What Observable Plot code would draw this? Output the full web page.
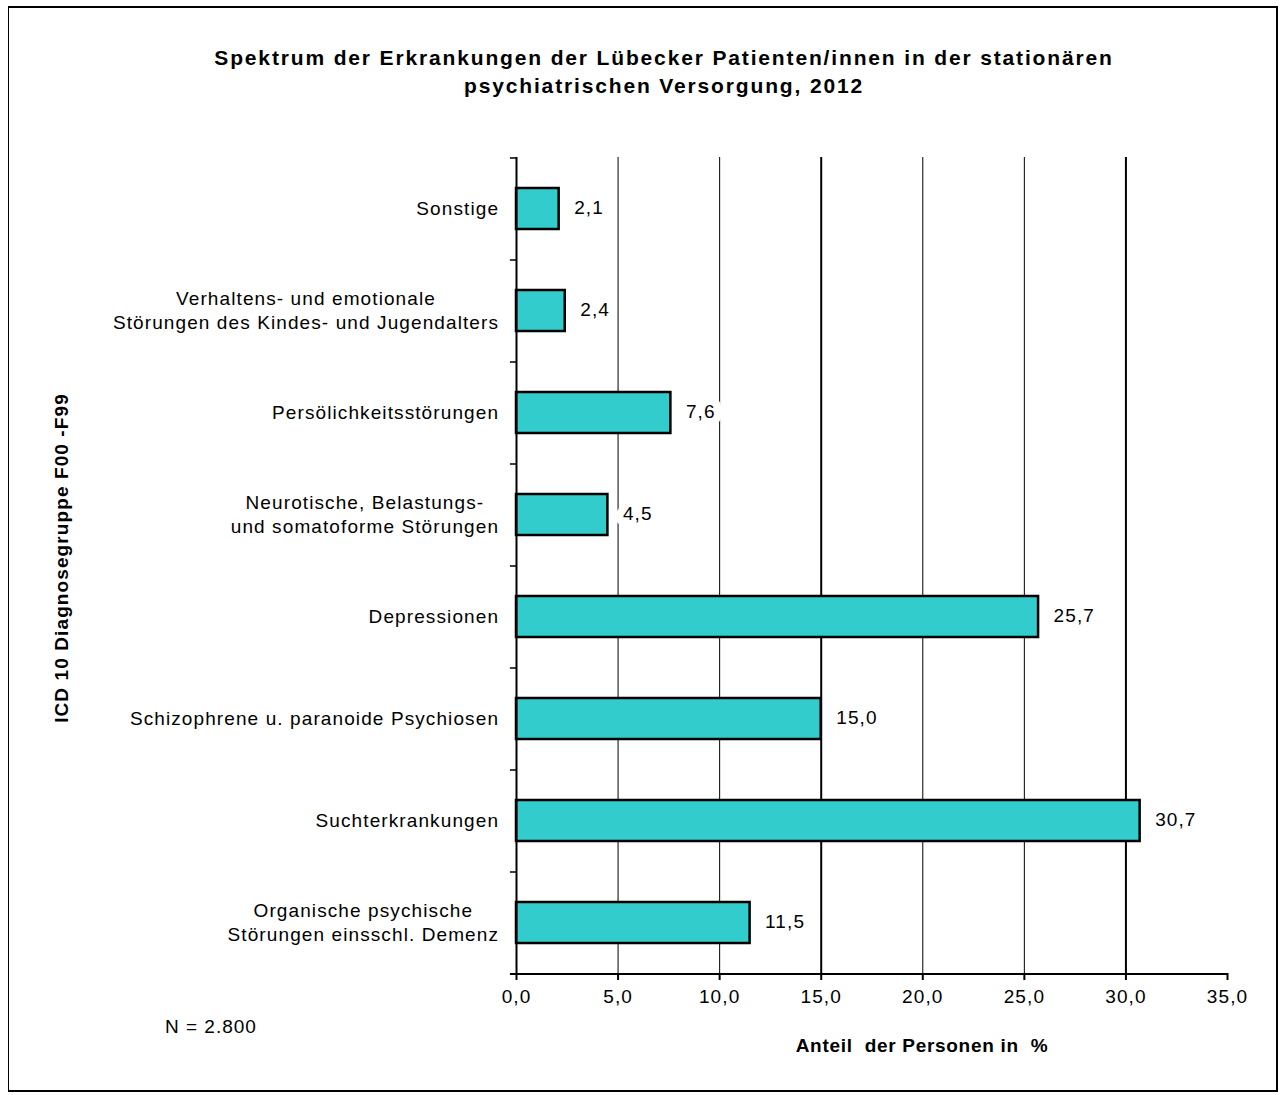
<!DOCTYPE html>
<html>
<head>
<meta charset="utf-8">
<script src="https://cdn.jsdelivr.net/npm/d3@7"></script>
<script src="https://cdn.jsdelivr.net/npm/@observablehq/plot@0.6"></script>
<style>
  html, body { margin: 0; padding: 0; background: #fff; }
  body { width: 1282px; height: 1095px; position: relative; overflow: hidden;
         font-family: "Liberation Sans", Arial, sans-serif; color: #000; }
  #frame { position: absolute; left: 8px; top: 6px; width: 1270px; height: 1086px;
           border: 2px solid #000; border-left-width: 1px; box-sizing: border-box; }
  #title { position: absolute; left: 0; width: 1328px; top: 44px; text-align: center;
           font-weight: bold; font-size: 21px; line-height: 28px; letter-spacing: 1.85px; }
  #ytitle { position: absolute; left: 62px; top: 558px; transform: translate(-50%, -50%) rotate(-90deg);
            font-weight: bold; font-size: 19px; white-space: nowrap; letter-spacing: 1.1px; }
  #xtitle { position: absolute; left: 922px; top: 1046px; transform: translate(-50%, -50%);
            font-weight: bold; font-size: 19px; white-space: pre; letter-spacing: 0.7px; }
  #note { position: absolute; left: 165px; top: 1027px; transform: translateY(-50%);
          font-size: 19px; white-space: nowrap; letter-spacing: 1px; }
  #chart { position: absolute; left: 0; top: 140px; }
</style>
</head>
<body>
<div id="frame"></div>
<div id="title">Spektrum der Erkrankungen der Lübecker Patienten/innen in der stationären<br>psychiatrischen Versorgung, 2012</div>
<div id="ytitle">ICD 10 Diagnosegruppe F00 -F99</div>
<div id="note">N = 2.800</div>
<div id="xtitle">Anteil  der Personen in  %</div>
<div id="chart"></div>
<script>
// ---- data (top to bottom as shown) ----
const categories = [
  "Sonstige",
  "Verhaltens- und emotionale\nStörungen des Kindes- und Jugendalters",
  "Persölichkeitsstörungen",
  "Neurotische, Belastungs-\nund somatoforme Störungen",
  "Depressionen",
  "Schizophrene u. paranoide Psychiosen",
  "Suchterkrankungen",
  "Organische psychische\nStörungen einsschl. Demenz"
];
const values = [2.1, 2.4, 7.6, 4.5, 25.7, 15.0, 30.7, 11.5];
const xTicks = [0, 5, 10, 15, 20, 25, 30, 35];
const gridValues = [5, 10, 15, 20, 25, 30];

const data = categories.map((c, i) => ({cat: c, value: values[i]}));
const fmt = v => v.toFixed(1).replace(".", ",");

const FONT = "'Liberation Sans', Arial, sans-serif";
const FS = 19;
const LS = 1.1;
const W = 1282, H = 883, mT = 17, mB = 50, mL = 516, mR = 55;
const step = (H - mT - mB) / categories.length;

const ctx = document.createElement("canvas").getContext("2d");
ctx.font = `${FS}px ${FONT}`;
const labelWidth = c => Math.max(...c.split("\n").map(l => ctx.measureText(l).width + LS * (l.length - 1)));

const labelMarks = categories.map(c =>
  Plot.text([c], {
    x: () => 0, y: d => d, text: d => d,
    textAnchor: "middle", lineHeight: 24 / FS,
    dx: -18 - labelWidth(c) / 2, dy: -2, fill: "#000"
  })
);

const chart = Plot.plot({
  width: W, height: H,
  marginTop: mT, marginBottom: mB, marginLeft: mL, marginRight: mR,
  style: {fontFamily: FONT, fontSize: FS + "px", color: "#000", background: "transparent", letterSpacing: LS + "px"},
  x: {domain: [0, 35], axis: null},
  y: {domain: categories, paddingInner: 0.6, paddingOuter: 0.3, axis: null},
  marks: [
    Plot.ruleX(gridValues, {stroke: "#000", strokeWidth: d => (d % 15 === 0 ? 2 : 1)}),
    Plot.text(data, {
      x: "value", y: "cat", text: d => fmt(d.value),
      textAnchor: "start", dx: 15, dy: -1, fill: "#000",
      stroke: "#fff", strokeWidth: 16, paintOrder: "stroke"
    }),
    Plot.barX(data, {x: "value", y: "cat", fill: "#33CCCC", stroke: "#000", strokeWidth: 2.5}),
    Plot.ruleX([0], {stroke: "#000", strokeWidth: 2}),
    Plot.ruleY(categories, {y: d => d, x1: -0.3, x2: 0, dy: -step / 2, stroke: "#000", strokeWidth: 1.5}),
    Plot.ruleY(categories.slice(-1), {y: d => d, x1: -0.3, x2: 35, dy: step / 2, stroke: "#000", strokeWidth: 2}),
    Plot.axisX({ticks: xTicks, tickFormat: fmt, tickSize: 7, tickPadding: 9, strokeWidth: 2, fill: "#000", stroke: "#000", label: null}),
    ...labelMarks
  ]
});
document.getElementById("chart").appendChild(chart);
</script>
</body>
</html>
